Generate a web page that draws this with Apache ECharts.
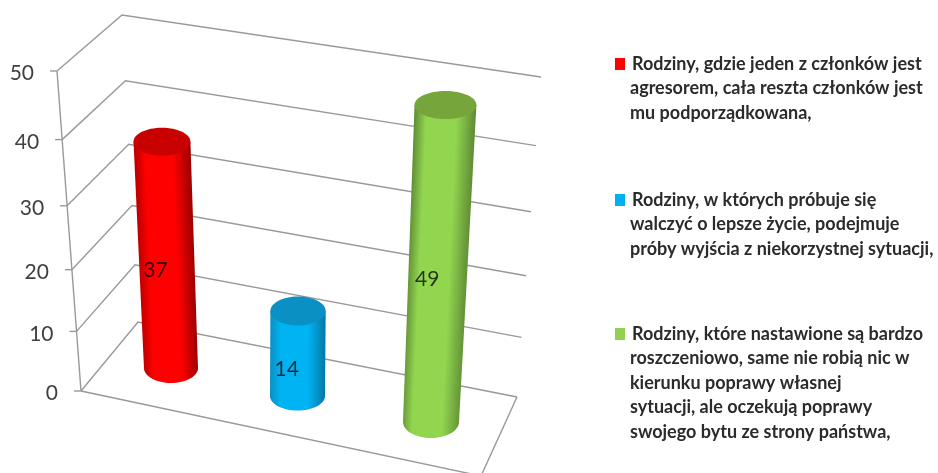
<!DOCTYPE html>
<html>
<head>
<meta charset="utf-8">
<style>html,body{margin:0;padding:0;background:#fff}#chart{width:938px;height:473px}</style>
<script src="https://cdn.jsdelivr.net/npm/echarts@6/dist/echarts.min.js"></script>
</head>
<body>
<div id="chart"></div>
<script>
// Chart data
const categories = ['Agresor', 'Walka o lepsze życie', 'Roszczeniowe'];
const values = [37, 14, 49];
const yTicks = [0, 10, 20, 30, 40, 50];
const colors = ['#ff0000', '#00b0f0', '#92d050'];
const legendLines = [
  ['Rodziny, gdzie jeden z członków jest', 'agresorem, cała reszta członków jest', 'mu podporządkowana,'],
  ['Rodziny, w których próbuje się', 'walczyć o lepsze życie, podejmuje', 'próby wyjścia z niekorzystnej sytuacji,'],
  ['Rodziny, które nastawione są bardzo', 'roszczeniowo, same nie robią nic w', 'kierunku poprawy własnej', 'sytuacji, ale oczekują poprawy', 'swojego bytu ze strony państwa,']
];

// Scene geometry of the perspective box and the cylinders
const GRID = { left: 81, top: 71, width: 436, height: 320 };
const Y_MAX = 50;
const wall = {
  front: { base: [81, 391], top: [57, 71] },
  back:  { base: [138, 322], top: [122, 15] },
  right: { base: [517, 397], top: [541, 77] }
};
const floorFrontRight = [481, 476];
const cylinders = [
  { base: [171, 368], lean: -12.5, rise: 313, rxBase: 27, rxTop: 29, ryBase: 15, ryTop: 13.5 },
  { base: [297.5, 396], lean: 2, rise: 324, rxBase: 27.5, rxTop: 28, ryBase: 14.5, ryTop: 14.5 },
  { base: [431, 422], lean: 14.8, rise: 324, rxBase: 28, rxTop: 31, ryBase: 16, ryTop: 14 }
];
const shades = [
  { edgeL: '#b80000', mid: '#ff0000', edgeR: '#980000', cap: '#c80000' },
  { edgeL: '#0a8fc4', mid: '#00b4f4', edgeR: '#0478a6', cap: '#0a90c2' },
  { edgeL: '#5f8a34', mid: '#92d650', edgeR: '#5f8a34', cap: '#76a53c' }
];
const LABEL_FONT = 'Lato, sans-serif';

// Height foreshortening: upper levels sit nearer the eye than lower ones
const heightShare = t => t / (1 + 0.092 * (1 - t));
const mix = (a, b, s) => [a[0] + (b[0] - a[0]) * s, a[1] + (b[1] - a[1]) * s];

// Share of the axis height for a value
function shareOf(api, value) {
  const py = api.coord([0, value])[1];
  return heightShare((GRID.top + GRID.height - py) / GRID.height);
}

function renderFrame(params, api) {
  const v = api.value(1);
  const s = shareOf(api, v);
  const L = mix(wall.front.base, wall.front.top, s);
  const B = mix(wall.back.base, wall.back.top, s);
  const R = mix(wall.right.base, wall.right.top, s);
  const line = { stroke: '#999999', lineWidth: 1.4, fill: null };
  const children = [
    { type: 'polyline', shape: { points: [L, B, R] }, style: line },
    { type: 'line', shape: { x1: L[0] - 7, y1: L[1], x2: L[0], y2: L[1] }, style: line },
    { type: 'text', style: {
        x: L[0] - 23, y: L[1] + 2.5, text: String(v), align: 'right', verticalAlign: 'middle',
        font: '21px ' + LABEL_FONT, fill: '#404040' } }
  ];
  if (v === 0) {
    children.push({ type: 'polyline',
      shape: { points: [wall.front.base, floorFrontRight, wall.right.base] }, style: line });
    children.push({ type: 'polyline',
      shape: { points: [wall.front.base, wall.front.top] }, style: line });
  }
  return { type: 'group', children };
}

function renderCylinder(params, api) {
  const i = api.value(0);
  const v = api.value(1);
  const c = cylinders[i];
  const tone = shades[i];
  const s = shareOf(api, v);
  const top = [c.base[0] + c.lean * s, c.base[1] - c.rise * s];
  const rxTop = c.rxBase + (c.rxTop - c.rxBase) * s;
  const ryTop = c.ryBase + (c.ryTop - c.ryBase) * s;

  // Body outline: the two sides closed by the lower half of the base ellipse
  const points = [[top[0] - rxTop, top[1]], [top[0] + rxTop, top[1]]];
  for (let k = 0; k <= 32; k++) {
    const a = Math.PI * k / 32;
    points.push([c.base[0] + c.rxBase * Math.cos(a), c.base[1] + c.ryBase * Math.sin(a)]);
  }

  // Shading runs across the cylinder, perpendicular to its leaning axis
  const dx = top[0] - c.base[0], dy = top[1] - c.base[1];
  const len = Math.hypot(dx, dy) || 1;
  const nx = -dy / len, ny = dx / len;
  const r = Math.max(rxTop, c.rxBase);
  const mid = mix(c.base, top, 0.5);
  const fill = {
    type: 'linear', global: true,
    x: mid[0] - nx * r, y: mid[1] - ny * r, x2: mid[0] + nx * r, y2: mid[1] + ny * r,
    colorStops: [
      { offset: 0, color: tone.edgeL }, { offset: 0.2, color: tone.mid },
      { offset: 0.68, color: tone.mid }, { offset: 1, color: tone.edgeR }
    ]
  };
  return {
    type: 'group',
    children: [
      { type: 'polygon', shape: { points }, style: { fill } },
      { type: 'ellipse', shape: { cx: top[0], cy: top[1], rx: rxTop, ry: ryTop }, style: { fill: tone.cap } },
      { type: 'text', style: {
          x: mid[0] - 11, y: mid[1] + 15.5, text: String(v), align: 'center', verticalAlign: 'middle',
          font: '21px ' + LABEL_FONT, fill: 'rgba(0,0,0,0.75)' } }
    ]
  };
}

// Legend: one square marker and several text lines per family
const LEGEND_FONT = 'bold 18px Lato, sans-serif';
const legendLayout = [
  { y: 64, lines: 24.5 }, { y: 200, lines: 24.5 }, { y: 334, lines: 24.5 }
];
const legendGraphics = [];
legendLines.forEach((lines, i) => {
  const y0 = legendLayout[i].y;
  legendGraphics.push({ type: 'rect', left: 615, top: y0 - 6, shape: { width: 10, height: 12 }, style: { fill: colors[i] } });
  lines.forEach((text, k) => {
    legendGraphics.push({ type: 'text', left: k === 0 ? 632 : 630, top: y0 + k * legendLayout[i].lines - 11,
      style: { text, font: LEGEND_FONT, fill: '#2b2b2b', lineHeight: 22, verticalAlign: 'top' } });
  });
});

const chart = echarts.init(document.getElementById('chart'), null, { renderer: 'canvas' });
chart.setOption({
  animation: false,
  backgroundColor: '#ffffff',
  grid: GRID,
  xAxis: { type: 'category', data: categories, show: false },
  yAxis: { type: 'value', min: 0, max: Y_MAX, interval: 10, show: false },
  graphic: legendGraphics,
  series: [
    { name: 'Siatka', type: 'custom', renderItem: renderFrame, clip: false, z: 1,
      data: yTicks.map(t => [0, t]), encode: { x: 0, y: 1 } },
    { name: 'Rodziny', type: 'custom', renderItem: renderCylinder, clip: false, z: 2,
      data: values.map((v, i) => [i, v]), encode: { x: 0, y: 1 } }
  ]
});
</script>
</body>
</html>
